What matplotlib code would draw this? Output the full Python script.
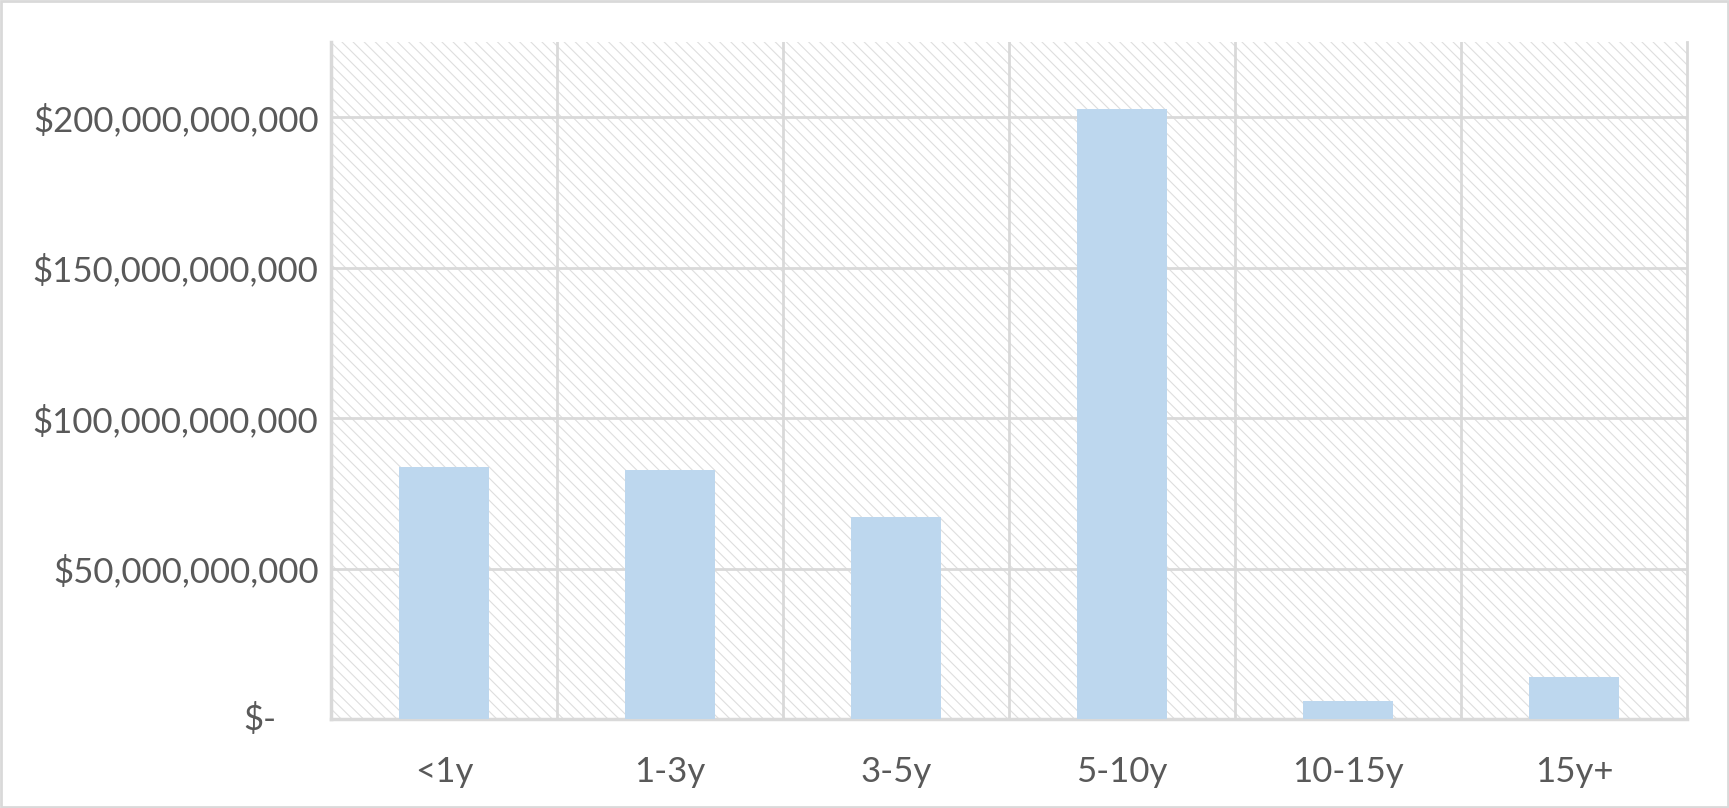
import numpy as np
import matplotlib.pyplot as plt
from matplotlib.patches import Rectangle
from matplotlib.ticker import FuncFormatter, MultipleLocator

plt.rcParams['font.family'] = ['Lato', 'DejaVu Sans']
plt.rcParams['hatch.color'] = '#dedede'
plt.rcParams['hatch.linewidth'] = 0.8

categories = ['<1y', '1-3y', '3-5y', '5-10y', '10-15y', '15y+']
amounts = [83.7e9, 82.9e9, 67.2e9, 202.6e9, 5.9e9, 13.9e9]

grid_col = '#d9d9d9'
text_col = '#595959'

fig = plt.figure(figsize=(17.29, 8.08), dpi=100)
ax = fig.add_axes([331/1729, 1 - 719/808, (1687-331)/1729, (719-42)/808])

# hatched plot area background
ax.add_patch(Rectangle((0, 0), 1, 1, transform=ax.transAxes, facecolor='white',
                       edgecolor='#dedede', hatch='\\\\\\', linewidth=0, zorder=0))

x = np.arange(len(categories))
ax.bar(x, amounts, width=0.4, color='#bdd7ee', zorder=3)

ax.set_xlim(-0.5, len(categories) - 0.5)
ax.set_ylim(0, 225e9)
ax.yaxis.set_major_locator(MultipleLocator(50e9))

def money(v, pos):
    if v == 0:
        return ''
    return '${:,.0f}'.format(v)

ax.yaxis.set_major_formatter(FuncFormatter(money))
ax.set_xticks(x)
ax.set_xticklabels(categories)

# gridlines: horizontal at ticks, vertical between categories
for yv in np.arange(50e9, 225e9, 50e9):
    ax.axhline(yv, color=grid_col, lw=2, zorder=1)
for xv in np.arange(0.5, len(categories) - 0.5, 1):
    ax.axvline(xv, color=grid_col, lw=2, zorder=1)
ax.axvline(len(categories) - 0.5, color=grid_col, lw=2, zorder=1, clip_on=False)

for s in ['top', 'right']:
    ax.spines[s].set_visible(False)
for s in ['left', 'bottom']:
    ax.spines[s].set_color(grid_col)
    ax.spines[s].set_linewidth(2.5)

ax.tick_params(axis='both', length=0, labelsize=25, colors=text_col)
ax.tick_params(axis='y', pad=9)
ax.tick_params(axis='x', pad=27)

ax.text(-0.04, 0, '$-', transform=ax.get_yaxis_transform(), ha='right', va='center',
        fontsize=25, color=text_col)

# outer chart border
fig.patches.append(Rectangle((0.0005, 0.001), 0.999, 0.998, transform=fig.transFigure,
                             fill=False, edgecolor='#d9d9d9', linewidth=2))

fig.savefig('out.png', dpi=100, facecolor='white')
